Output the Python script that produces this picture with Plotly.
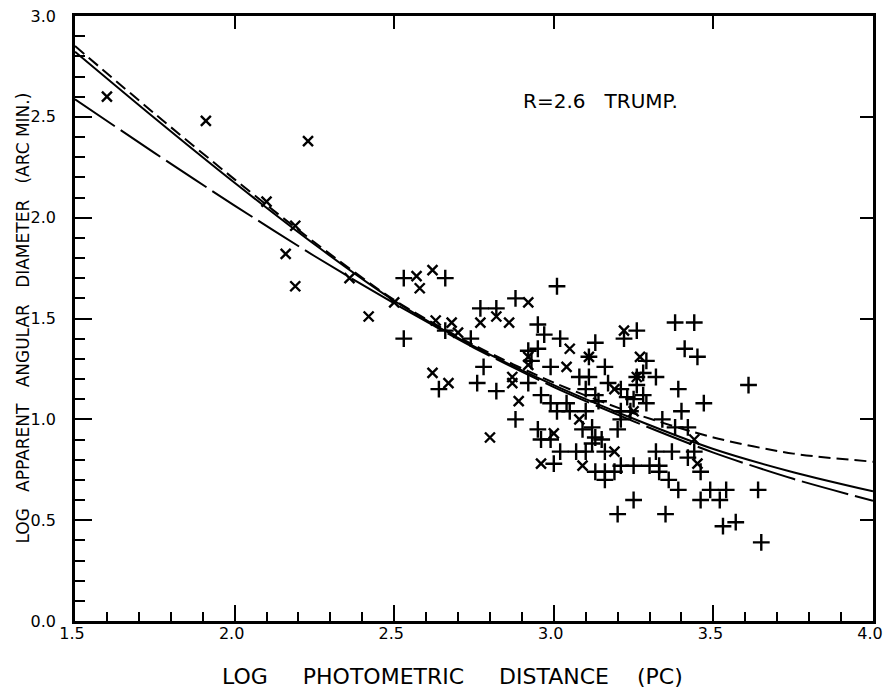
import plotly.graph_objects as go

# ---- data ----
# "x" symbols (log distance, log angular diameter)
x_pts_dist = [1.60, 1.91, 2.23, 2.10, 2.19, 2.16, 2.19, 2.36, 2.42, 2.50, 2.57, 2.58, 2.62,
              2.63, 2.68, 2.70, 2.62, 2.67, 2.77, 2.82, 2.86, 2.80, 2.92, 2.92, 2.92, 2.87,
              2.87, 2.89, 3.04, 3.05, 3.11, 3.19, 3.22, 3.27, 3.26, 3.08, 3.00, 2.96, 3.09,
              3.19, 3.25, 3.44, 3.45]
x_pts_diam = [2.60, 2.48, 2.38, 2.08, 1.96, 1.82, 1.66, 1.70, 1.51, 1.58, 1.71, 1.65, 1.74,
              1.49, 1.48, 1.43, 1.23, 1.18, 1.48, 1.51, 1.48, 0.91, 1.58, 1.31, 1.27, 1.21,
              1.18, 1.09, 1.26, 1.35, 1.31, 1.15, 1.44, 1.31, 1.21, 1.00, 0.93, 0.78, 0.77,
              0.84, 1.04, 0.90, 0.78]

# "+" symbols
p_pts_dist = [2.53, 2.53, 2.66, 2.64, 2.66, 2.74, 2.76, 2.77, 2.82, 2.78, 2.82, 2.88, 3.01,
              2.95, 2.97, 2.92, 2.93, 2.95, 2.92, 2.88, 2.99, 3.02, 3.13, 3.11, 3.16, 3.08,
              3.11, 3.17, 3.21, 3.22, 3.13, 3.10, 2.96, 2.99, 3.01, 3.04, 3.05, 3.10, 3.14,
              3.09, 3.12, 2.95, 2.96, 2.99, 3.13, 3.15, 3.12, 3.20, 3.21, 3.21, 3.24, 3.38,
              3.44, 3.26, 3.41, 3.45, 3.29, 3.28, 3.26, 3.32, 3.26, 3.23, 3.25, 3.28, 3.29,
              3.39, 3.61, 3.47, 3.34, 3.40, 3.38, 3.42, 3.44, 3.42, 3.46, 3.10, 3.07, 3.16,
              3.02, 3.00, 3.13, 3.16, 3.19, 3.16, 3.21, 3.25, 3.30, 3.33, 3.33, 3.32, 3.37,
              3.36, 3.39, 3.49, 3.54, 3.64, 3.46, 3.52, 3.25, 3.20, 3.35, 3.53, 3.57, 3.65]
p_pts_diam = [1.40, 1.70, 1.70, 1.15, 1.44, 1.40, 1.18, 1.55, 1.55, 1.26, 1.14, 1.60, 1.66,
              1.47, 1.42, 1.34, 1.29, 1.35, 1.18, 1.00, 1.26, 1.40, 1.38, 1.31, 1.26, 1.21,
              1.21, 1.18, 1.15, 1.40, 1.12, 1.15, 1.12, 1.08, 1.04, 1.08, 1.04, 1.04, 1.09,
              0.95, 0.96, 0.95, 0.90, 0.90, 0.91, 0.90, 0.88, 0.95, 1.00, 1.04, 1.04, 1.48,
              1.48, 1.44, 1.35, 1.31, 1.29, 1.23, 1.21, 1.21, 1.17, 1.11, 1.10, 1.12, 1.08,
              1.15, 1.17, 1.08, 1.00, 1.04, 0.96, 0.96, 0.84, 0.81, 0.74, 0.84, 0.84, 0.84,
              0.84, 0.78, 0.74, 0.74, 0.74, 0.70, 0.77, 0.77, 0.77, 0.77, 0.74, 0.84, 0.84,
              0.70, 0.65, 0.65, 0.65, 0.65, 0.60, 0.60, 0.60, 0.53, 0.53, 0.47, 0.49, 0.39]

# model curves (values read at these distances)
curve_dist = [1.5, 1.75, 2.0, 2.25, 2.5, 2.75, 3.0, 3.25, 3.5, 3.75, 4.0]
solid_diam = [2.823, 2.493, 2.173, 1.868, 1.588, 1.362, 1.170, 1.003, 0.853, 0.738, 0.643]
short_dash_diam = [2.851, 2.515, 2.190, 1.878, 1.592, 1.368, 1.182, 1.030, 0.910, 0.830, 0.790]
long_dash_diam = [2.587, 2.320, 2.060, 1.810, 1.575, 1.355, 1.160, 0.990, 0.835, 0.705, 0.596]

x_ticks = [1.5, 2.0, 2.5, 3.0, 3.5, 4.0]
x_tick_labels = ["1.5", "2.0", "2.5", "3.0", "3.5", "4.0"]
y_ticks = [0.0, 0.5, 1.0, 1.5, 2.0, 2.5, 3.0]
y_tick_labels = ["0.0", "0.5", "1.0", "1.5", "2.0", "2.5", "3.0"]

FONT = "DejaVu Sans"
NB = "\u00a0"

fig = go.Figure()

fig.add_trace(go.Scatter(x=curve_dist, y=long_dash_diam, mode="lines",
                         line=dict(color="black", width=2, dash="48px,7px",
                                   shape="spline", smoothing=0.8),
                         showlegend=False, hoverinfo="skip"))
fig.add_trace(go.Scatter(x=curve_dist, y=short_dash_diam, mode="lines",
                         line=dict(color="black", width=2, dash="12px,6px",
                                   shape="spline", smoothing=0.8),
                         showlegend=False, hoverinfo="skip"))
fig.add_trace(go.Scatter(x=curve_dist, y=solid_diam, mode="lines",
                         line=dict(color="black", width=2, shape="spline", smoothing=0.8),
                         showlegend=False, hoverinfo="skip"))

fig.add_trace(go.Scatter(x=x_pts_dist, y=x_pts_diam, mode="markers",
                         marker=dict(symbol="x-thin", size=10,
                                     line=dict(color="black", width=2.4)),
                         showlegend=False))
fig.add_trace(go.Scatter(x=p_pts_dist, y=p_pts_diam, mode="markers",
                         marker=dict(symbol="cross-thin", size=12,
                                     line=dict(color="black", width=2.4)),
                         showlegend=False))

# invisible trace for the top/right tick axes
fig.add_trace(go.Scatter(x=[1.5], y=[0.0], xaxis="x2", yaxis="y2", mode="markers",
                         marker=dict(opacity=0), showlegend=False, hoverinfo="skip"))

fig.update_layout(
    width=884, height=691,
    margin=dict(l=75, r=11, t=16, b=70),
    paper_bgcolor="white", plot_bgcolor="white",
    font=dict(family=FONT, color="black"),
    xaxis=dict(range=[1.5, 4.0], tickvals=x_ticks, ticktext=x_tick_labels,
               ticks="inside", ticklen=16, tickwidth=2, tickcolor="black",
               minor=dict(dtick=0.1, tick0=1.5, ticks="inside", ticklen=9,
                          tickwidth=2, tickcolor="black", showgrid=False),
               showline=True, linewidth=2.5, linecolor="black",
               showgrid=False, zeroline=False, automargin=False,
               ticklabeloverflow="allow", ticklabelshift=-3,
               tickfont=dict(family=FONT, size=16), ticklabelstandoff=-4),
    yaxis=dict(range=[0.0, 3.0], tickvals=y_ticks, ticktext=y_tick_labels,
               ticks="inside", ticklen=17, tickwidth=2, tickcolor="black",
               minor=dict(dtick=0.1, tick0=0.0, ticks="inside", ticklen=10,
                          tickwidth=2, tickcolor="black", showgrid=False),
               showline=True, linewidth=2.5, linecolor="black",
               showgrid=False, zeroline=False, automargin=False,
               ticklabeloverflow="allow",
               tickfont=dict(family=FONT, size=16), ticklabelstandoff=13),
    xaxis2=dict(range=[1.5, 4.0], overlaying="x", side="top", anchor="y",
                tickvals=x_ticks, ticks="inside", ticklen=13, tickwidth=2,
                tickcolor="black", showticklabels=False, showgrid=False,
                zeroline=False, showline=True, linewidth=2.5, linecolor="black",
                automargin=False),
    yaxis2=dict(range=[0.0, 3.0], overlaying="y", side="right", anchor="x",
                tickvals=y_ticks, ticks="inside", ticklen=13, tickwidth=2,
                tickcolor="black", showticklabels=False, showgrid=False,
                zeroline=False, showline=True, linewidth=2.5, linecolor="black",
                automargin=False),
)

fig.add_annotation(x=3.145, y=2.58, xref="x", yref="y",
                   text="R=2.6" + NB * 3 + "TRUMP.", showarrow=False,
                   font=dict(family=FONT, size=20, color="black"))
fig.add_annotation(x=0.473, y=-0.091, xref="paper", yref="paper",
                   text="LOG" + NB * 5 + "PHOTOMETRIC" + NB * 5 + "DISTANCE" + NB * 4 + "(PC)",
                   showarrow=False, yanchor="middle",
                   font=dict(family=FONT, size=22, color="black"))
fig.add_annotation(x=-0.0664, y=0.50, xref="paper", yref="paper",
                   text="LOG" + NB * 3 + "APPARENT" + NB * 3 + "ANGULAR" + NB * 3 +
                        "DIAMETER" + NB * 3 + "(ARC" + NB + "MIN.)",
                   textangle=-90, showarrow=False, xanchor="center",
                   font=dict(family=FONT, size=17, color="black"))

# remove the page's default body margin so the figure sits at the window's corner
fig.write_html("out.html",
               config={"displayModeBar": False},
               post_script="document.body.style.margin='0px';")
